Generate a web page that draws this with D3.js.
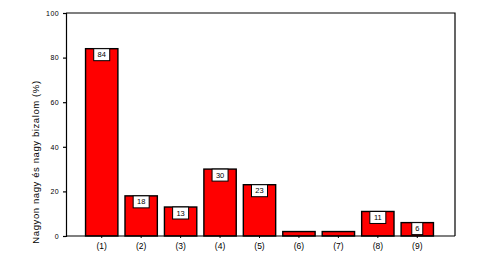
<!DOCTYPE html>
<html>
<head>
<meta charset="utf-8">
<script src="https://cdn.jsdelivr.net/npm/d3@7"></script>
<style>
body { margin:0; background:#fff; }
text { font-family: "Liberation Sans", Arial, sans-serif; fill:#000; }
</style>
</head>
<body>
<div class="chart-container"></div>
<script>
var categories = ["(1)","(2)","(3)","(4)","(5)","(6)","(7)","(8)","(9)"];
var values = [84, 18, 13, 30, 23, 2, 2, 11, 6];
var labels = ["84","18","13","30","23","","","11","6"];
var yTicks = [0, 20, 40, 60, 80, 100];

var width = 479, height = 257;
var plot = {left:66, right:455, top:13, bottom:236};

var data = categories.map(function(c, i){
	return {cat:c, value:values[i], label:labels[i]};
});

var svg = d3.select(".chart-container").append("svg")
	.attr("width", width)
	.attr("height", height);

var x = d3.scaleBand()
	.domain(categories)
	.range([82, 437])
	.paddingInner(0.18)
	.paddingOuter(0.09);

var y = d3.scaleLinear()
	.domain([0, 100])
	.range([plot.bottom, plot.top]);

// frame
svg.append("path")
	.attr("d", "M" + plot.left + "," + plot.top + "H" + plot.right + "V" + plot.bottom)
	.attr("fill", "none")
	.attr("stroke", "#000")
	.attr("stroke-width", 1.2);

// bars
svg.append("g").selectAll("rect")
	.data(data)
	.enter().append("rect")
		.attr("x", function(d){ return x(d.cat); })
		.attr("y", function(d){ return y(d.value); })
		.attr("width", x.bandwidth())
		.attr("height", function(d){ return y(0) - y(d.value); })
		.attr("fill", "#ff0000")
		.attr("stroke", "#000")
		.attr("stroke-width", 1.4);

// value boxes
var lab = svg.append("g").selectAll("g")
	.data(data.filter(function(d){ return d.label !== ""; }))
	.enter().append("g")
		.attr("transform", function(d){
			return "translate(" + (x(d.cat) + x.bandwidth()/2) + "," + y(d.value) + ")";
		});

lab.append("rect")
	.attr("x", function(d){ return d.label.length > 1 ? -8 : -5.5; })
	.attr("y", 0)
	.attr("width", function(d){ return d.label.length > 1 ? 16 : 11; })
	.attr("height", 12)
	.attr("fill", "#fff")
	.attr("stroke", "#000")
	.attr("stroke-width", 1);

lab.append("text")
	.attr("x", 0)
	.attr("y", 8.5)
	.attr("text-anchor", "middle")
	.style("font-size", "7.5px")
	.text(function(d){ return d.label; });

// y axis
var yAxis = svg.append("g")
	.attr("transform", "translate(" + plot.left + ",0)")
	.call(d3.axisLeft(y).tickValues(yTicks).tickSize(3).tickPadding(4));
yAxis.select(".domain").attr("stroke-width", 1.2);
yAxis.selectAll("text").style("font-size", "7px").style("letter-spacing", "0.4px").attr("font-family", null);
yAxis.selectAll("line").attr("stroke-width", 1.2);

// x axis
var xAxis = svg.append("g")
	.attr("transform", "translate(0," + plot.bottom + ")")
	.call(d3.axisBottom(x).tickSize(2).tickPadding(5).tickSizeOuter(0));
xAxis.select(".domain").attr("d", "M" + plot.left + ",0H" + plot.right).attr("stroke-width", 1.2);
xAxis.selectAll("text").style("font-size", "8.5px").attr("font-family", null);

svg.append("text")
	.attr("transform", "translate(39,162) rotate(-90)")
	.attr("text-anchor", "middle")
	.style("font-size", "9.5px")
	.style("letter-spacing", "0.6px")
	.text("Nagyon nagy és nagy bizalom (%)");
</script>
</body>
</html>
